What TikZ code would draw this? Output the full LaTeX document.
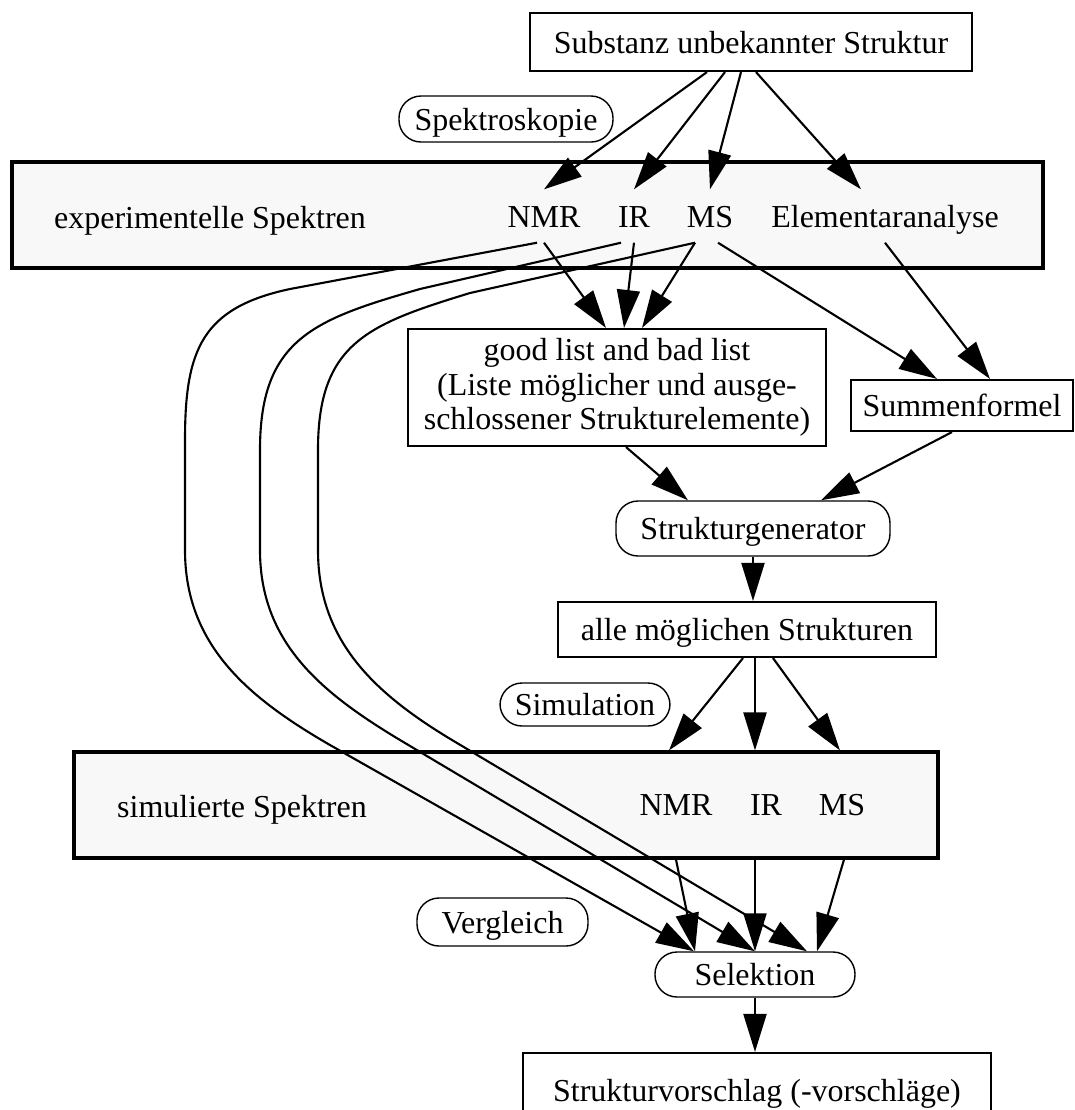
\documentclass[tikz,border=0pt]{standalone}
\usepackage{fontspec}
\setmainfont{Liberation Serif}
\usetikzlibrary{arrows.meta}
\definecolor{panelgray}{gray}{0.972}

\begin{document}
\begin{tikzpicture}[font=\fontsize{9.1}{9.9}\selectfont,
    box/.style={draw,line width=0.6pt,inner xsep=0.1cm,inner ysep=0.05cm,text height=0.25cm,text depth=0.03cm},
    rbox/.style={draw,line width=0.4pt,rounded corners=0.22cm,inner xsep=0.1cm,inner ysep=0.05cm,text height=0.25cm,text depth=0.03cm},
    panel/.style={draw,line width=0.9pt,fill=panelgray},
    lbl/.style={anchor=base,inner sep=0.15cm,text height=0.22cm,text depth=0cm},
    arr/.style={-{Triangle[length=3.8mm,width=2.3mm]},line width=0.6pt}]
    \useasboundingbox (0,0) rectangle (10.75,-11.10);
    \clip (0,0) rectangle (10.75,-11.10);
    % boxes
    \node[box,minimum width=4.42cm,minimum height=0.58cm] (sub) at (7.51,-0.42) {Substanz unbekannter Struktur};
    \node[rbox,minimum width=2.14cm,minimum height=0.46cm] (spek) at (5.06,-1.19) {Spektroskopie};
    \node[panel,minimum width=10.31cm,minimum height=1.06cm] (expbox) at (5.275,-2.15) {};
    \node[lbl] (exptxt) at (2.10,-2.28) {experimentelle Spektren};
    \node[lbl] (enmr) at (5.44,-2.27) {NMR};
    \node[lbl] (eir) at (6.34,-2.27) {IR};
    \node[lbl] (ems) at (7.10,-2.27) {MS};
    \node[lbl] (eelem) at (8.85,-2.27) {Elementaranalyse};
    \node[draw,line width=0.6pt,align=center,minimum width=4.18cm,minimum height=1.17cm,inner xsep=0.1cm,inner ysep=0.05cm] (goodlist) at (6.17,-3.875)
        {good list and bad list\\(Liste möglicher und ausge-\\schlossener Strukturelemente)};
    \node[box,minimum width=2.22cm,minimum height=0.51cm] (summ) at (9.62,-4.055) {Summenformel};
    \node[rbox,minimum width=2.74cm,minimum height=0.55cm] (sgen) at (7.53,-5.285) {Strukturgenerator};
    \node[box,minimum width=3.78cm,minimum height=0.55cm] (alle) at (7.47,-6.295) {alle möglichen Strukturen};
    \node[rbox,minimum width=1.70cm,minimum height=0.43cm] (simu) at (5.85,-7.045) {Simulation};
    \node[panel,minimum width=8.64cm,minimum height=1.06cm] (simbox) at (5.06,-8.05) {};
    \node[lbl] (simtxt) at (2.42,-8.17) {simulierte Spektren};
    \node[lbl] (snmr) at (6.76,-8.15) {NMR};
    \node[lbl] (sir) at (7.66,-8.15) {IR};
    \node[lbl] (sms) at (8.42,-8.15) {MS};
    \node[rbox,minimum width=1.71cm,minimum height=0.48cm] (verg) at (5.025,-9.22) {Vergleich};
    \node[rbox,minimum width=2.00cm,minimum height=0.45cm] (sel) at (7.55,-9.745) {Selektion};
    \node[box,minimum width=4.68cm,minimum height=0.74cm] (vorschlag) at (7.57,-10.90) {Strukturvorschlag (-vorschläge)};
    % spectroscopy
    \draw[arr] ([xshift=-0.44cm]sub.south) -- (enmr.north);
    \draw[arr] ([xshift=-0.26cm]sub.south) -- (eir.north);
    \draw[arr] ([xshift=-0.10cm]sub.south) -- (ems.north);
    \draw[arr] ([xshift=0.05cm]sub.south) -- ([xshift=-0.24cm]eelem.north);
    % lists and formula
    \draw[arr] (enmr.south) -- ([xshift=-0.11cm]goodlist.north);
    \draw[arr] (eir.south) -- ([xshift=0.07cm]goodlist.north);
    \draw[arr] ([xshift=-0.15cm]ems.south) -- ([xshift=0.25cm]goodlist.north);
    \draw[arr] ([xshift=0.08cm]ems.south) -- ([xshift=-0.25cm]summ.north);
    \draw[arr] (eelem.south) -- ([xshift=0.28cm]summ.north);
    \draw[arr] ([xshift=0.09cm]goodlist.south) -- ([xshift=-0.65cm]sgen.north);
    \draw[arr] ([xshift=-0.10cm]summ.south) -- ([xshift=0.68cm]sgen.north);
    \draw[arr] (sgen.south) -- (sgen.south |- alle.north);
    % simulation
    \draw[arr] ([xshift=-0.04cm]alle.south) -- ([xshift=-0.07cm]snmr.center |- simbox.north);
    \draw[arr] ([xshift=0.08cm]alle.south) -- ([xshift=0.08cm]alle.south |- simbox.north);
    \draw[arr] ([xshift=0.26cm]alle.south) -- ([xshift=-0.02cm]sms.center |- simbox.north);
    \draw[arr] (snmr.center |- simbox.south) -- ([xshift=-0.60cm]sel.north);
    \draw[arr] (sel.north |- simbox.south) -- (sel.north);
    \draw[arr] ([xshift=0.02cm]sms.center |- simbox.south) -- ([xshift=0.62cm]sel.north);
    % comparison with the measured spectra
    \draw[arr] ([xshift=-0.07cm]enmr.south) -- (2.90,-2.89) to[out=192,in=90,looseness=1.25] (1.85,-4.40)
        -- (1.85,-5.50) to[out=-90,in=150] (3.30,-7.45) -- ([xshift=-0.61cm]sel.north);
    \draw[arr] ([xshift=-0.13cm]eir.south) -- (4.20,-2.89) to[out=196,in=90,looseness=1.25] (2.60,-4.50)
        -- (2.60,-5.50) to[out=-90,in=149] (4.00,-7.40) -- (sel.north);
    \draw[arr] ([xshift=-0.15cm]ems.south) -- (4.70,-2.93) to[out=197,in=90,looseness=1.25] (3.18,-4.50)
        -- (3.18,-5.50) to[out=-90,in=149] (4.52,-7.40) -- ([xshift=0.52cm]sel.north);
    \draw[arr] (sel.south) -- (sel.south |- vorschlag.north);
\end{tikzpicture}
\end{document}
